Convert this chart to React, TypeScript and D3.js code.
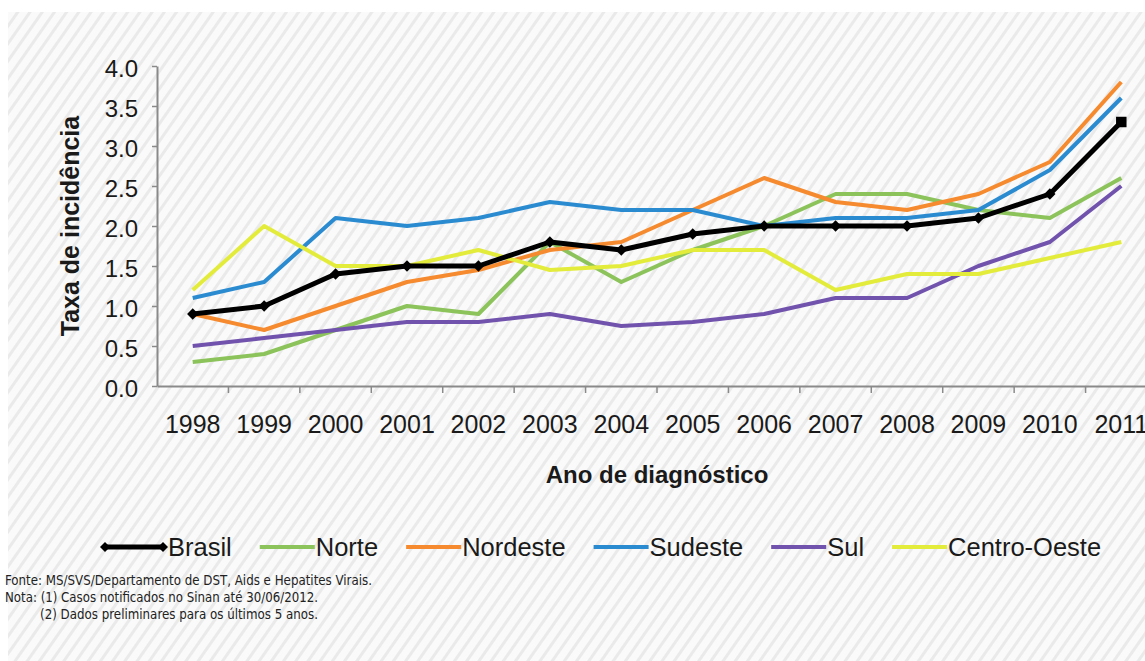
import { useEffect, useRef } from 'react'
import * as d3 from 'd3'

const years = ['1998', '1999', '2000', '2001', '2002', '2003', '2004', '2005', '2006', '2007', '2008', '2009', '2010', '2011']

const brasil = [0.9, 1.0, 1.4, 1.5, 1.5, 1.8, 1.7, 1.9, 2.0, 2.0, 2.0, 2.1, 2.4, 3.3]
const norte = [0.3, 0.4, 0.7, 1.0, 0.9, 1.8, 1.3, 1.7, 2.0, 2.4, 2.4, 2.2, 2.1, 2.6]
const nordeste = [0.9, 0.7, 1.0, 1.3, 1.45, 1.7, 1.8, 2.2, 2.6, 2.3, 2.2, 2.4, 2.8, 3.8]
const sudeste = [1.1, 1.3, 2.1, 2.0, 2.1, 2.3, 2.2, 2.2, 2.0, 2.1, 2.1, 2.2, 2.7, 3.6]
const sul = [0.5, 0.6, 0.7, 0.8, 0.8, 0.9, 0.75, 0.8, 0.9, 1.1, 1.1, 1.5, 1.8, 2.5]
const centroOeste = [1.2, 2.0, 1.5, 1.5, 1.7, 1.45, 1.5, 1.7, 1.7, 1.2, 1.4, 1.4, 1.6, 1.8]

const seriesNames = ['Brasil', 'Norte', 'Nordeste', 'Sudeste', 'Sul', 'Centro-Oeste']
const seriesValues = [brasil, norte, nordeste, sudeste, sul, centroOeste]
const seriesColors = ['#000000', '#8cc35b', '#f58a2e', '#2b8bd1', '#7153ad', '#e3eb3b']

const yTicks = [0, 0.5, 1, 1.5, 2, 2.5, 3, 3.5, 4]

const notes = [
    'Fonte: MS/SVS/Departamento de DST, Aids e Hepatites Virais.',
    'Nota: (1) Casos notificados no Sinan até 30/06/2012.',
    '(2) Dados preliminares para os últimos 5 anos.',
]

export default function App() {
    const ref = useRef<SVGSVGElement>(null)

    useEffect(() => {
        if (!ref.current) return
        const W = 1145
        const H = 661
        const font = 'Liberation Sans, Arial, sans-serif'
        const svg = d3.select(ref.current)
        svg.selectAll('*').remove()

        // striped backdrop
        const pat = svg.append('defs').append('pattern')
            .attr('id', 'hatch')
            .attr('patternUnits', 'userSpaceOnUse')
            .attr('width', 10).attr('height', 10)
            .attr('patternTransform', 'rotate(35)')
        pat.append('rect').attr('width', 10).attr('height', 10).attr('fill', '#fafafa')
        pat.append('rect').attr('width', 3).attr('height', 10).attr('fill', '#eaeaea')
        svg.append('rect').attr('width', W).attr('height', H).attr('fill', '#fff')
        svg.append('rect').attr('x', 8).attr('y', 12).attr('width', W - 8).attr('height', H - 12).attr('fill', 'url(#hatch)')

        const x = d3.scaleBand().domain(years).range([157, 1157]).padding(0)
        const y = d3.scaleLinear().domain([0, 4]).range([386, 66])
        const bw = x.bandwidth()
        const cx = (i: number) => (x(years[i]) as number) + bw / 2

        // y axis
        const gy = svg.append('g')
            .attr('transform', 'translate(157,0)')
            .call(d3.axisLeft(y).tickValues(yTicks).tickFormat(d3.format('.1f')).tickSize(5).tickSizeOuter(0).tickPadding(14))
        gy.selectAll('text').attr('font-size', 24).attr('font-family', font).attr('fill', '#1a1a1a').attr('dy', '0.42em')

        // x axis
        const gx = svg.append('g')
            .attr('transform', 'translate(0,386)')
            .call(d3.axisBottom(x).tickSize(0).tickSizeOuter(0).tickPadding(29))
        gx.selectAll('text').attr('font-size', 25).attr('font-family', font).attr('fill', '#1a1a1a')
        gx.selectAll('line.bound')
            .data(years.slice(1))
            .join('line')
            .attr('class', 'bound')
            .attr('x1', (d) => x(d) as number)
            .attr('x2', (d) => x(d) as number)
            .attr('y1', 0).attr('y2', 7)

        svg.selectAll('.domain').attr('stroke', '#8a8a8a').attr('stroke-width', 2)
        svg.selectAll('g line').attr('stroke', '#8a8a8a').attr('stroke-width', 1.5)

        // axis titles
        svg.append('text')
            .attr('transform', 'translate(70,226) rotate(-90)')
            .attr('text-anchor', 'middle').attr('dy', '0.35em')
            .attr('font-family', font).attr('font-weight', 'bold').attr('font-size', 25)
            .attr('fill', '#1a1a1a')
            .text('Taxa de incidência')
        svg.append('text')
            .attr('x', 657).attr('y', 475)
            .attr('text-anchor', 'middle').attr('dy', '0.35em')
            .attr('font-family', font).attr('font-weight', 'bold').attr('font-size', 24)
            .attr('fill', '#1a1a1a')
            .text('Ano de diagnóstico')

        // series lines, Brasil on top
        const line = d3.line<number>().x((_, i) => cx(i)).y((d) => y(d))
        const order = [1, 2, 3, 4, 5, 0]
        order.forEach((s) => {
            svg.append('path')
                .datum(seriesValues[s])
                .attr('fill', 'none')
                .attr('stroke', seriesColors[s])
                .attr('stroke-width', s === 0 ? 5 : 4)
                .attr('stroke-linejoin', 'round')
                .attr('d', line)
        })
        const diamond = d3.symbol().type(d3.symbolSquare).size(64)
        const square = d3.symbol().type(d3.symbolSquare).size(110)
        svg.selectAll('path.mk')
            .data(brasil)
            .join('path')
            .attr('class', 'mk')
            .attr('d', (_, i) => (i === brasil.length - 1 ? square() : diamond()))
            .attr('transform', (d, i) => `translate(${cx(i)},${y(d)})` + (i === brasil.length - 1 ? '' : ' rotate(45)'))
            .attr('fill', '#000')

        // legend
        let lx = 105
        const ly = 547
        seriesNames.forEach((name, s) => {
            const len = s === 0 ? 58 : 55
            svg.append('line')
                .attr('x1', lx).attr('x2', lx + len)
                .attr('y1', ly).attr('y2', ly)
                .attr('stroke', seriesColors[s])
                .attr('stroke-width', s === 0 ? 5 : 4)
            if (s === 0) {
                [lx, lx + len].forEach((px) => {
                    svg.append('path').attr('d', d3.symbol().type(d3.symbolSquare).size(50)())
                        .attr('transform', `translate(${px},${ly}) rotate(45)`).attr('fill', '#000')
                })
            }
            const tx = lx + len + (s === 0 ? 5 : 1)
            const t = svg.append('text')
                .attr('x', tx).attr('y', ly).attr('dy', '0.35em')
                .attr('font-family', font).attr('font-size', 25.5)
                .attr('fill', '#1a1a1a')
                .text(name)
            const tw = (t.node() as SVGTextElement).getComputedTextLength()
            lx = tx + tw + 28
        })

        // source notes
        const noteX = [5, 5, 40]
        const noteW = [367, 313, 278]
        notes.forEach((n, i) => {
            svg.append('text')
                .attr('x', noteX[i]).attr('y', 580 + i * 17).attr('dy', '0.35em')
                .attr('font-family', 'Liberation Sans Narrow, DejaVu Sans Condensed, sans-serif')
                .attr('font-size', 14.5)
                .attr('textLength', noteW[i]).attr('lengthAdjust', 'spacingAndGlyphs')
                .attr('fill', '#222')
                .text(n)
        })
    }, [])

    return (
        <svg ref={ref} width={1145} height={661} style={{ position: 'absolute', left: 0, top: 0 }}></svg>
    )
}
